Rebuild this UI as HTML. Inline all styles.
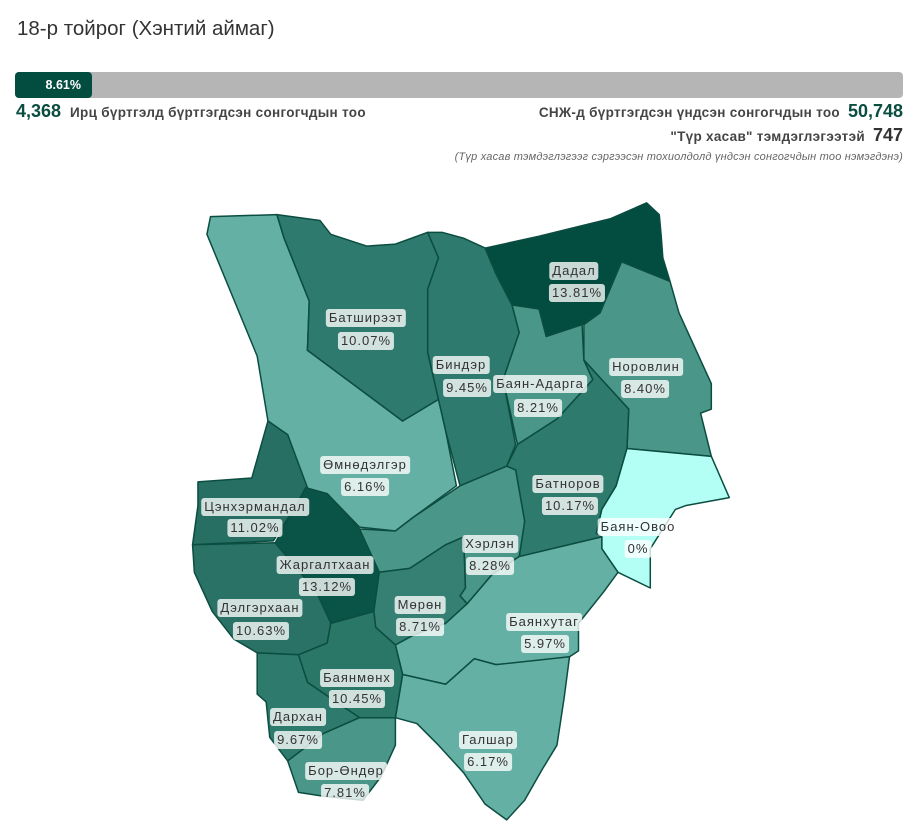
<!DOCTYPE html>
<html><head><meta charset="utf-8"><style>
body{margin:0;width:922px;height:838px;background:#fff;font-family:"Liberation Sans",sans-serif;position:relative;overflow:hidden}
.a{position:absolute;white-space:nowrap}
.lb{position:absolute;transform:translate(-50%,-50%);background:rgba(255,255,255,0.78);border-radius:3px;padding:1px 3px;font-size:13px;letter-spacing:1px;color:#333;line-height:16px;white-space:nowrap}
</style></head><body>
<div class="a" style="left:17px;top:17px;font-size:20.5px;color:#333">18-р тойрог (Хэнтий аймаг)</div>
<div class="a" style="left:15px;top:72px;width:888px;height:26px;background:#b5b5b5;border-radius:4px"></div>
<div class="a" style="left:15px;top:72px;width:77px;height:26px;background:#034d40;border-radius:4px;color:#fff;font-weight:bold;font-size:12.5px;line-height:26px;text-align:right;box-sizing:border-box;padding-right:11px">8.61%</div>
<div class="a" style="left:16px;top:101px;font-size:18px;font-weight:bold;color:#0b4d40">4,368 <span style="font-size:13.5px;color:#444;margin-left:4px;letter-spacing:0.3px">Ирц бүртгэлд бүртгэгдсэн сонгогчдын тоо</span></div>
<div class="a" style="right:19px;top:101px;font-size:18px;font-weight:bold;color:#0b4d40"><span style="font-size:13.5px;color:#444;margin-right:8px;letter-spacing:0.3px">СНЖ-д бүртгэгдсэн үндсэн сонгогчдын тоо</span>50,748</div>
<div class="a" style="right:19px;top:125px;font-size:18px;font-weight:bold;color:#333"><span style="font-size:13.5px;color:#444;margin-right:8px;letter-spacing:0.3px">"Түр хасав" тэмдэглэгээтэй</span>747</div>
<div class="a" style="right:19px;top:151px;font-size:11px;font-style:italic;color:#666;letter-spacing:0.2px">(Түр хасав тэмдэглэгээг сэргээсэн тохиолдолд үндсэн сонгогчдын тоо нэмэгдэнэ)</div>
<svg class="a" style="left:0;top:0" width="922" height="838">
<g transform="translate(180,195) scale(0.359,0.393)" stroke="#0b4d40" stroke-width="1.5" stroke-linejoin="round">
<polygon vector-effect="non-scaling-stroke" fill="#64b0a4" points="85,55 270,50 290,110 360,270 355,395 620,575 720,520 740,600 770,740 650,820 600,855 500,845 410,760 350,745 300,610 245,575 215,410 75,100"/>
<polygon vector-effect="non-scaling-stroke" fill="#2f7a6e" points="270,50 390,65 420,100 520,130 600,125 690,95 720,160 690,240 690,400 720,520 620,575 355,395 360,270 290,110"/>
<polygon vector-effect="non-scaling-stroke" fill="#2f7a6e" points="690,95 730,95 790,110 850,135 880,200 925,280 945,350 900,470 935,635 910,690 780,740 740,600 720,520 690,400 690,240 720,160"/>
<polygon vector-effect="non-scaling-stroke" fill="#034d40" points="850,135 1000,105 1200,60 1300,20 1335,50 1340,100 1345,160 1365,220 1230,170 1170,300 1120,330 1020,360 1000,290 925,280 880,200"/>
<polygon vector-effect="non-scaling-stroke" fill="#4a9688" points="1230,170 1365,220 1390,300 1480,480 1480,545 1450,555 1480,665 1245,645 1250,545 1125,420 1125,330 1170,300"/>
<polygon vector-effect="non-scaling-stroke" fill="#4a9688" points="925,280 1000,290 1020,360 1120,330 1125,420 1150,470 1050,570 940,635 900,470 945,350"/>
<polygon vector-effect="non-scaling-stroke" fill="#2e7a6c" points="1125,420 1250,545 1245,645 1215,740 1175,800 1160,860 1175,870 945,920 960,830 935,700 910,690 940,635 1050,570 1150,470"/>
<polygon vector-effect="non-scaling-stroke" fill="#b3fff5" points="1245,645 1480,665 1530,770 1410,790 1380,800 1310,900 1310,1000 1220,960 1175,900 1175,870 1160,860 1175,800 1215,740"/>
<polygon vector-effect="non-scaling-stroke" fill="#266f62" points="50,730 200,720 245,575 300,610 355,745 260,880 35,890 50,790"/>
<polygon vector-effect="non-scaling-stroke" fill="#4a9688" points="500,850 600,855 650,820 780,740 910,690 935,700 960,830 945,920 870,965 800,1040 780,1020 795,1000 790,870 740,890 640,950 555,960"/>
<polygon vector-effect="non-scaling-stroke" fill="#0a5447" points="350,745 410,760 500,850 555,960 540,1060 420,1090 380,1010 265,885"/>
<polygon vector-effect="non-scaling-stroke" fill="#358073" points="555,960 640,950 740,890 790,870 795,1000 780,1020 800,1040 740,1090 650,1120 600,1145 545,1100 540,1060"/>
<polygon vector-effect="non-scaling-stroke" fill="#64b0a4" points="945,920 1175,870 1175,900 1220,960 1180,1010 1110,1090 1110,1160 1085,1175 960,1190 880,1195 820,1180 740,1245 620,1220 600,1145 650,1120 740,1090 800,1040 870,965"/>
<polygon vector-effect="non-scaling-stroke" fill="#64b0a4" points="620,1220 740,1245 820,1180 880,1195 1085,1175 1070,1280 1050,1400 1010,1460 960,1540 910,1590 850,1550 790,1470 720,1400 660,1345 600,1330"/>
<polygon vector-effect="non-scaling-stroke" fill="#2a7265" points="35,890 265,885 380,1010 420,1090 410,1140 330,1170 215,1165 150,1130 90,1060 40,960"/>
<polygon vector-effect="non-scaling-stroke" fill="#2a7667" points="420,1090 540,1060 545,1100 600,1145 620,1220 600,1330 500,1330 355,1240 330,1170 410,1140"/>
<polygon vector-effect="non-scaling-stroke" fill="#2e7a6c" points="215,1165 330,1170 355,1240 500,1330 400,1370 300,1440 250,1380 240,1290 215,1270"/>
<polygon vector-effect="non-scaling-stroke" fill="#4a9688" points="500,1330 600,1330 600,1400 560,1480 510,1540 400,1530 330,1520 300,1440 400,1370"/>
</g></svg>
<div class="lb" style="left:574px;top:271px">Дадал</div><div class="lb" style="left:577px;top:293px">13.81%</div>
<div class="lb" style="left:366px;top:318px">Батширээт</div><div class="lb" style="left:366px;top:341px">10.07%</div>
<div class="lb" style="left:461px;top:365px">Биндэр</div><div class="lb" style="left:467px;top:388px">9.45%</div>
<div class="lb" style="left:540px;top:384px">Баян-Адарга</div><div class="lb" style="left:538px;top:408px">8.21%</div>
<div class="lb" style="left:646px;top:367px">Норовлин</div><div class="lb" style="left:645px;top:389px">8.40%</div>
<div class="lb" style="left:365px;top:465px">Өмнөдэлгэр</div><div class="lb" style="left:365px;top:487px">6.16%</div>
<div class="lb" style="left:568px;top:484px">Батноров</div><div class="lb" style="left:570px;top:506px">10.17%</div>
<div class="lb" style="left:255px;top:507px">Цэнхэрмандал</div><div class="lb" style="left:255px;top:528px">11.02%</div>
<div class="lb" style="left:638px;top:527px">Баян-Овоо</div><div class="lb" style="left:638px;top:549px">0%</div>
<div class="lb" style="left:490px;top:544px">Хэрлэн</div><div class="lb" style="left:490px;top:566px">8.28%</div>
<div class="lb" style="left:325px;top:565px">Жаргалтхаан</div><div class="lb" style="left:327px;top:587px">13.12%</div>
<div class="lb" style="left:420px;top:605px">Мөрөн</div><div class="lb" style="left:420px;top:627px">8.71%</div>
<div class="lb" style="left:260px;top:608px">Дэлгэрхаан</div><div class="lb" style="left:261px;top:631px">10.63%</div>
<div class="lb" style="left:544px;top:622px">Баянхутаг</div><div class="lb" style="left:545px;top:644px">5.97%</div>
<div class="lb" style="left:357px;top:678px">Баянмөнх</div><div class="lb" style="left:357px;top:699px">10.45%</div>
<div class="lb" style="left:298px;top:717px">Дархан</div><div class="lb" style="left:298px;top:740px">9.67%</div>
<div class="lb" style="left:488px;top:740px">Галшар</div><div class="lb" style="left:488px;top:762px">6.17%</div>
<div class="lb" style="left:346px;top:771px">Бор-Өндөр</div><div class="lb" style="left:345px;top:793px">7.81%</div>
</body></html>
